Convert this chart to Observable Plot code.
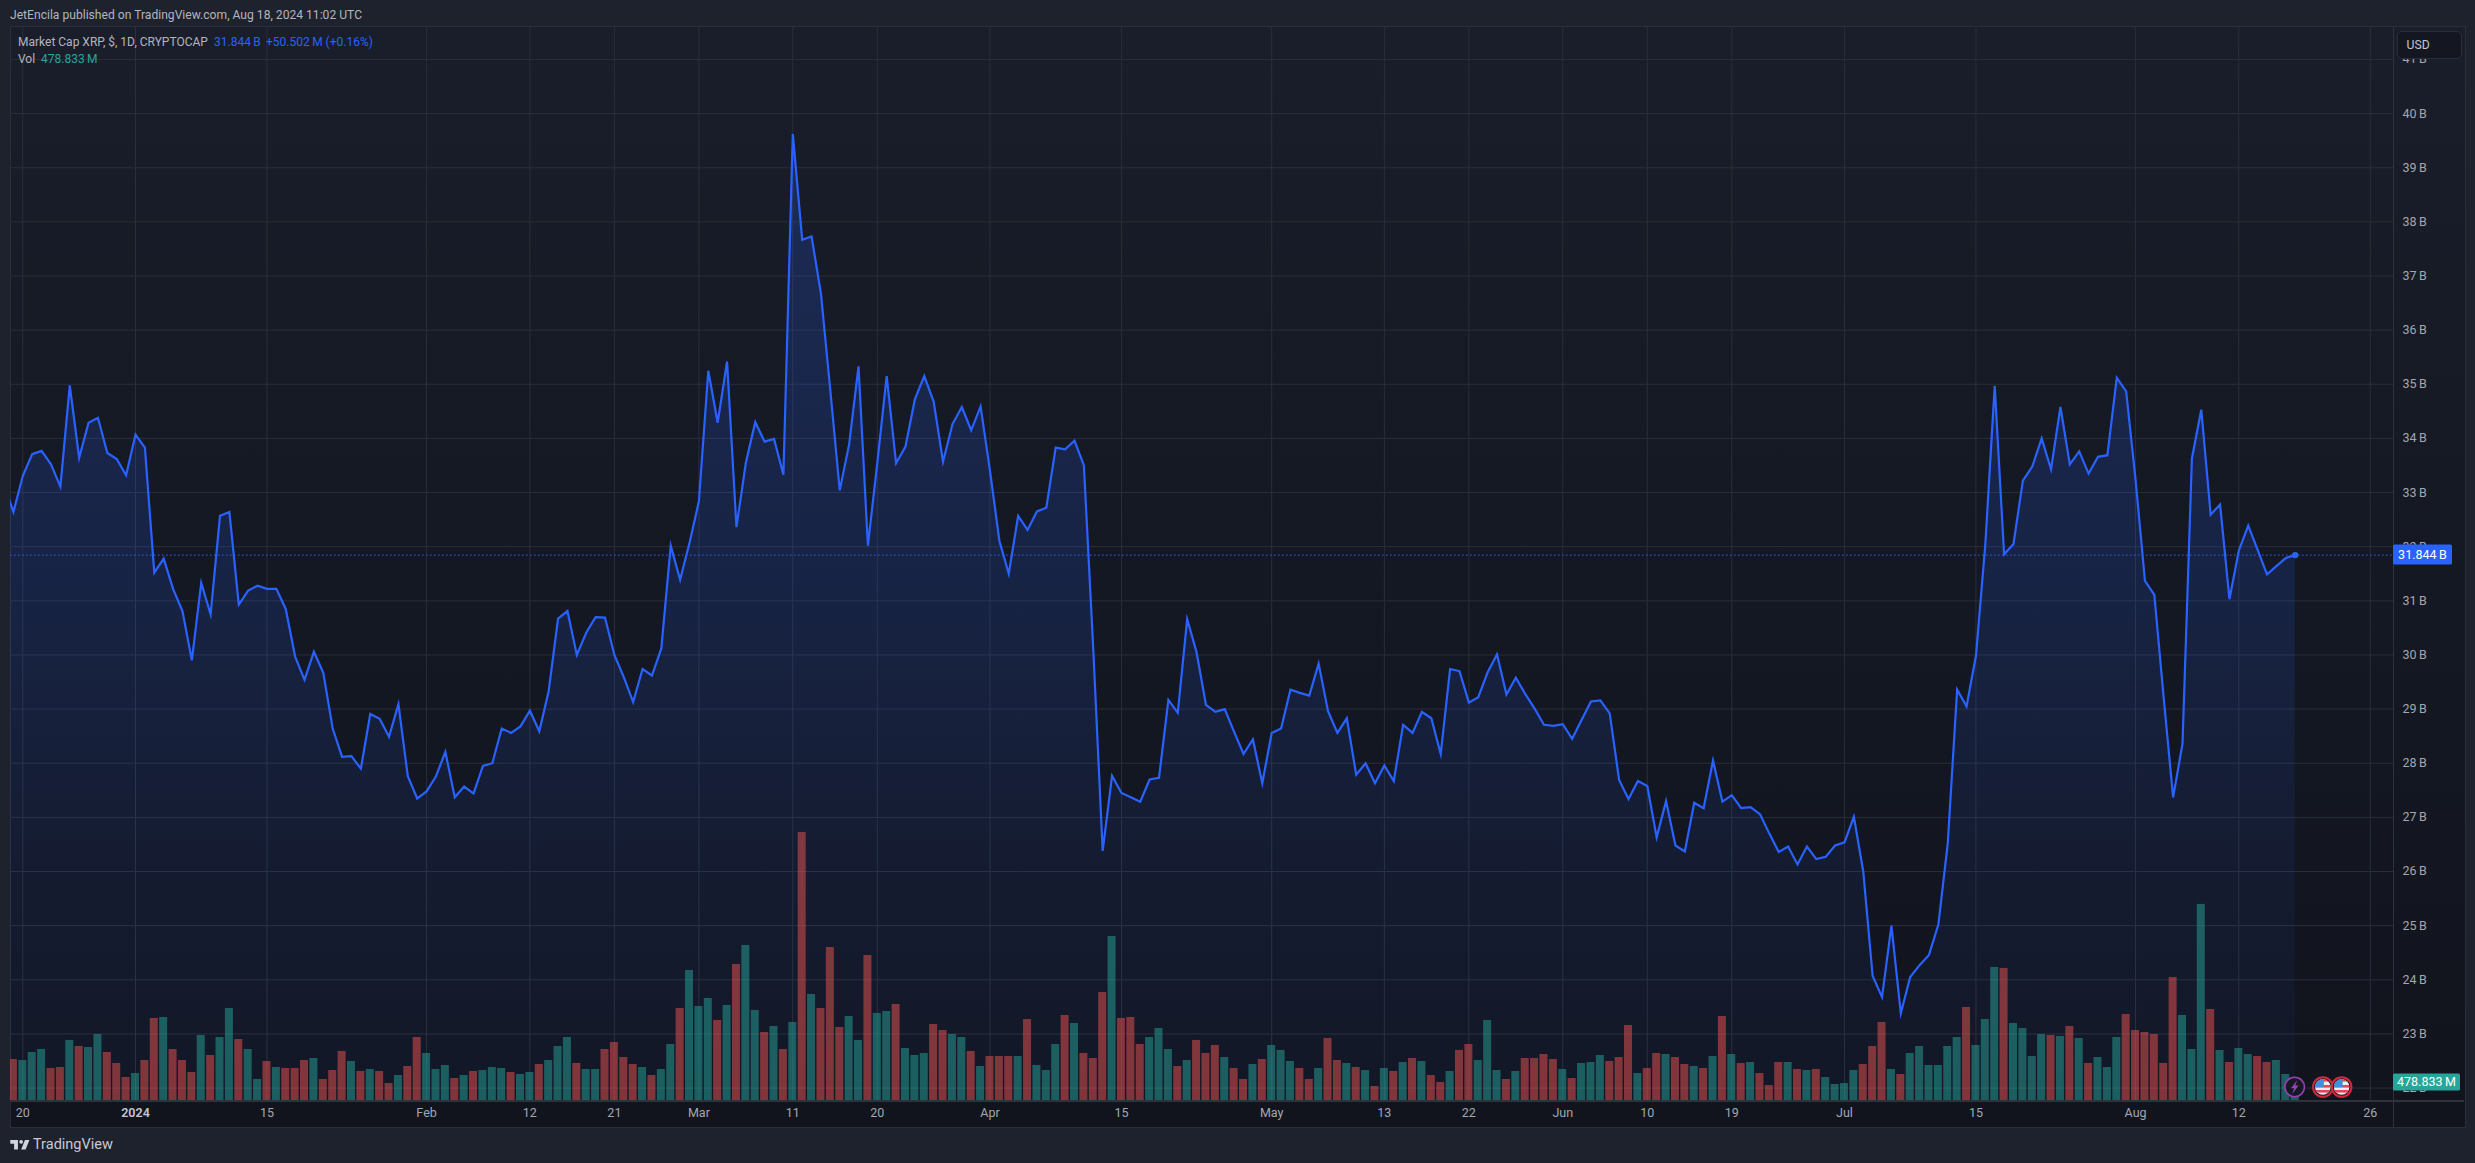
<!DOCTYPE html>
<html><head><meta charset="utf-8">
<script src="https://cdn.jsdelivr.net/npm/d3@7"></script>
<script src="https://cdn.jsdelivr.net/npm/@observablehq/plot@0.6"></script>
<style>
html,body{margin:0;padding:0;background:#1e222d;overflow:hidden}
#page{position:relative;width:2475px;height:1163px;font-family:Roboto,sans-serif;background:#1e222d;overflow:hidden}
#panel{position:absolute;left:10px;top:26px;width:2454px;height:1100px;border:1.5px solid #2a2e39;background:linear-gradient(180deg,#1a1e2a 0%,#151924 40%,#11141d 100%)}
#vdiv{position:absolute;left:2393px;top:27px;width:1px;height:1100px;background:#2e323d}
#hdiv{position:absolute;left:11px;top:1100px;width:2453px;height:1.5px;background:#2e323d}
#page svg{position:absolute;left:0;top:0}
.t{position:absolute;white-space:pre;font-size:12px;line-height:16px}
#usd{position:absolute;left:2396.5px;top:30.5px;width:63px;height:26px;background:#141722;border:1.2px solid #2a2e39;border-radius:5px;color:#c3c6ce;font-size:12.2px;line-height:26px;text-indent:9px}
</style></head><body>
<div id="page">
<div id="panel"></div>
<div id="vdiv"></div><div id="hdiv"></div>
<div class="t" style="left:10px;top:7px;color:#b2b5be;font-size:12.12px">JetEncila published on TradingView.com, Aug 18, 2024 11:02 UTC</div>
</div>
<script>
const startDate = Date.UTC(2023, 11, 18);
const priceB = [33.15,
32.64,33.31,33.71,33.77,33.52,33.11,34.98,33.64,34.29,34.38,33.73,33.62,33.32,
34.07,33.83,31.52,31.78,31.22,30.81,29.9,31.33,30.75,32.57,32.64,30.93,31.19,31.28,31.22,31.22,30.85,29.97,29.54,30.06,29.67,28.64,28.12,28.13,27.9,28.91,28.82,28.49,29.09,27.76,27.35,
27.48,27.76,28.21,27.37,27.57,27.44,27.95,28.0,28.64,28.56,28.68,28.97,28.59,29.33,30.67,30.81,30.0,30.41,30.7,30.69,30.0,29.59,29.13,29.74,29.62,30.12,32.02,31.39,32.07,
32.84,35.25,34.29,35.42,32.36,33.55,34.3,33.94,33.99,33.33,39.62,37.67,37.73,36.67,34.88,33.04,33.89,35.33,32.02,33.55,35.15,33.54,33.85,34.72,35.15,34.68,33.57,34.26,34.58,34.15,34.59,
33.4,32.11,31.5,32.57,32.31,32.65,32.72,33.83,33.8,33.96,33.5,30.1,26.38,27.77,27.45,27.37,27.29,27.7,27.73,29.17,28.93,30.66,30.05,29.08,28.95,29.0,28.58,28.17,28.44,27.63,28.56,28.64,29.36,29.3,29.25,29.84,
28.96,28.56,28.83,27.79,28.0,27.63,27.96,27.67,28.71,28.56,28.95,28.83,28.17,29.74,29.7,29.12,29.22,29.68,30.01,29.27,29.58,29.28,29.01,28.71,28.69,28.72,28.45,28.8,29.14,29.16,28.92,27.69,27.34,27.67,27.58,26.63,
27.3,26.48,26.37,27.27,27.17,28.05,27.29,27.41,27.17,27.19,27.06,26.7,26.36,26.46,26.13,26.46,26.23,26.27,26.48,26.54,27.01,26.0,
24.07,23.68,25.0,23.38,24.05,24.27,24.46,25.02,26.52,29.36,29.05,29.98,32.04,34.97,31.86,32.05,33.22,33.48,34.0,33.43,34.58,33.52,33.76,33.35,33.66,33.69,35.12,34.87,33.24,31.37,31.11,29.2,27.37,28.36,33.63,34.53,32.59,32.78,31.03,31.93,32.39,31.94,31.49,31.64,31.79,31.844];
const volumeM = [
1091,1064,1277,1357,852,878,1597,1437,1410,1756,1277,985,612,718,1064,2182,2209,1357,1064,745,1730,1197,1676,2448,1623,1357,559,1038,878,852,852,1064,1118,559,798,1304,1038,772,825,772,452,665,905,1676,1251,825,931,585,665,772,798,878,852,745,692,745,958,1064,1437,1676,985,825,825,1357,1543,1144,958,878,665,825,1490,2448,3459,2501,
2714,2129,2528,3619,4125,2395,1809,1969,1357,2076,7131,2821,2448,4071,1943,2235,1597,3858,2315,2368,2555,1384,1197,1251,2022,1863,1756,1676,1304,905,1171,1171,1171,1171,2155,931,798,1490,2262,2049,1251,1118,2874,4364,2182,2209,1490,1676,1916,1357,905,1064,1597,1251,1464,1144,852,559,958,1091,1464,1331,1038,852,559,852,1650,1064,985,878,798,373,852,772,
1011,1118,1038,665,479,772,1331,1490,1064,2129,798,559,772,1118,1118,1224,1091,825,585,985,1011,1197,1038,1144,1996,718,852,1251,1224,1144,958,905,852,1171,2235,1224,985,1011,718,399,1011,1011,825,798,825,612,426,452,798,958,1437,2076,825,692,1251,1437,931,931,1437,1676,2475,1464,2155,3539,3513,2049,1916,1171,1756,1730,1703,1969,1650,985,1144,878,1676,2288,1863,1809,1756,985,3273,2262,1357,5216,2422,1331,1011,1384,1224,1171,1011,1064,692,479];
const volumeDir = ["RGGGRRGRGGRRR",
"GRRGRRRGRG","GRGGRGRRRG","RRRGRGRRGR","RGGGRGRGGG","RGGRGGGRGG","RRRRGRGGRG",
"GGRGRGGRGR","GRGRRRGGRG","GRGGGRRGGR","GRRRGRGGGR","GRRRGRRRGG","GRGRRRGRRG",
"RGGGRRGRRG","RGRGRGRGRR","GRRGGGRGRR","RRGRGGGRRR","GRRGRRGRGR","GRGRRRGRGR",
"GGGGRRRGRG","GGGGGRGGGR","GGGGRGRGRG","GGRRRRRRGG","GRGRGGRRGGG"].join("").split("");
const xTickDates = ["2023-12-20","2024-01-01","2024-01-15","2024-02-01","2024-02-12","2024-02-21","2024-03-01","2024-03-11","2024-03-20","2024-04-01","2024-04-15","2024-05-01","2024-05-13","2024-05-22","2024-06-01","2024-06-10","2024-06-19","2024-07-01","2024-07-15","2024-08-01","2024-08-12","2024-08-26"];
const xTickLabels = ["20","2024","15","Feb","12","21","Mar","11","20","Apr","15","May","13","22","Jun","10","19","Jul","15","Aug","12","26"];
const priceTicks = [22,23,24,25,26,27,28,29,30,31,32,33,34,35,36,37,38,39,40,41];
const lastPrice = 31.844, lastVolume = 478.833;
const eventDates = [["2024-08-18","power"],["2024-08-21","us"],["2024-08-23","us"]];
const legendMain = ["Market Cap XRP, $, 1D, CRYPTOCAP","31.844\u2009B","+50.502\u2009M (+0.16%)"];
const legendVol = ["Vol","478.833\u2009M"];

const dayMs = 864e5;
const priceData = priceB.map((v,i)=>({date:new Date(startDate+i*dayMs),v}));
const volData = volumeM.map((v,i)=>({t:startDate+(i+1)*dayMs,v,dir:volumeDir[i]}));
const xDomain = [new Date("2023-12-18T16:30Z"), new Date("2024-08-28T11:17Z")];
const yBottom = 21.77, yTop = 41.59;
const dates = xTickDates.map(s=>new Date(s+"T00:00Z"));
const W=2475,H=1163,margins={marginLeft:10,marginRight:82,marginTop:27,marginBottom:63};
const font={fontFamily:"Roboto,sans-serif",fontSize:"12.5px",background:"transparent",overflow:"visible"};

const defs = () => d3.create("svg:defs").html(
 `<linearGradient id="areaFill" x1="0" y1="0" x2="0" y2="1">
   <stop offset="0" stop-color="#2962ff" stop-opacity=".21"/>
   <stop offset=".48" stop-color="#2962ff" stop-opacity=".15"/>
   <stop offset=".74" stop-color="#2962ff" stop-opacity=".08"/>
   <stop offset=".95" stop-color="#2962ff" stop-opacity=".045"/>
   <stop offset="1" stop-color="#2962ff" stop-opacity=".04"/></linearGradient>`).node();

function badge(value, fill, label, w, h){
  return (i,s,v,d)=>{
    const y = s.y(value), x = d.width-d.marginRight;
    const g = d3.create("svg:g");
    g.append("rect").attr("x",x).attr("y",y-h/2).attr("width",w).attr("height",h).attr("rx",1.5).attr("fill",fill);
    g.append("text").attr("x",x+(w-8)/2+4).attr("y",y+4.3).attr("text-anchor","middle").attr("fill","#fff").attr("font-size","12.5px").text(label);
    return g.node();
  };
}

const pricePlot = Plot.plot({
  width:W,height:H,...margins,style:font,
  x:{type:"utc",domain:xDomain,axis:null},
  y:{domain:[yBottom,yTop],axis:null},
  marks:[
    defs,
    Plot.gridY(priceTicks,{stroke:"#2a2e39",strokeOpacity:1}),
    Plot.gridX(dates,{stroke:"#2a2e39",strokeOpacity:1}),
    Plot.areaY(priceData,{x:"date",y1:yBottom,y2:"v",fill:"url(#areaFill)",clip:true}),
    Plot.ruleY([lastPrice],{stroke:"#2962ff",strokeDasharray:"1.5 2.5"}),
    Plot.line(priceData,{x:"date",y:"v",stroke:"#2962ff",strokeWidth:2.2,strokeLinejoin:"miter",strokeMiterlimit:6,clip:true}),
    Plot.dot([priceData[priceData.length-1]],{x:"date",y:"v",r:3.2,fill:"#2962ff"}),
    Plot.axisY(priceTicks,{anchor:"right",label:null,tickSize:0,tickPadding:9,textAnchor:"start",fill:"#a4a7b0",fontSize:12.5,tickFormat:d=>d+"\u2009B"}),
    Plot.axisX(dates,{anchor:"bottom",label:null,tickSize:0,tickPadding:8,fill:"#a4a7b0",fontSize:12.5,tickFormat:(d,i)=>xTickLabels[i]==="2024"?"":xTickLabels[i]}),
    Plot.axisX([dates[1]],{anchor:"bottom",label:null,tickSize:0,tickPadding:8,fill:"#c3c6ce",fontSize:12.5,fontWeight:600,tickFormat:()=>xTickLabels[1]}),
    badge(lastPrice,"#2962ff","31.844\u2009B",59,20)
  ]
});

const volTopM = 28542;
function eventMarks(i,s){
  const g=d3.create("svg:g");
  for(const [ds,kind] of eventDates){
    const e=g.append("g").attr("transform",`translate(${s.x(new Date(ds+"T00:00Z"))},${s.y(346)})`);
    if(kind==="power"){
      e.append("circle").attr("r",9.8).attr("fill","#151923").attr("stroke","#9c3fb5").attr("stroke-width",1.6);
      e.append("path").attr("d","M2.6-7 L-3.8 1.2 L-0.5 1.2 L-2.6 7 L4-1.4 L0.6-1.4 Z").attr("fill","#9c3fb5");
    } else {
      e.append("circle").attr("r",9.8).attr("fill","#151923").attr("stroke","#d02c3c").attr("stroke-width",2);
      const c=e.append("g").attr("clip-path","url(#flagClip2)");
      c.append("rect").attr("x",-8).attr("y",-8).attr("width",16).attr("height",16).attr("fill","#f1eef0");
      c.append("rect").attr("x",-8).attr("y",-2).attr("width",16).attr("height",2.6).attr("fill","#e2475a");
      c.append("rect").attr("x",-8).attr("y",3).attr("width",16).attr("height",2.6).attr("fill","#e2475a");
      c.append("rect").attr("x",-8).attr("y",-8).attr("width",16).attr("height",2.6).attr("fill","#e2475a");
      c.append("rect").attr("x",-8).attr("y",-8).attr("width",9).attr("height",8).attr("fill","#3f8fe0");
    }
  }
  return g.node();
}
const flagDefs=()=>d3.create("svg:defs").html('<clipPath id="flagClip2"><circle r="7.8"/></clipPath>').node();

const volPlot = Plot.plot({
  width:W,height:H,...margins,style:font,
  x:{type:"utc",domain:xDomain,axis:null},
  y:{domain:[0,volTopM],axis:null},
  marks:[
    flagDefs,
    Plot.rectY(volData,{
      x1:d=>new Date(d.t-0.426*dayMs),x2:d=>new Date(d.t+0.426*dayMs),y1:0,y2:"v",
      fill:d=>d.dir==="G"?"#26a69a":"#ef5350",fillOpacity:.5,clip:true,inset:0}),
    eventMarks,
    badge(lastVolume,"#26a69a","478.833\u2009M",67,17)
  ]
});

const page=document.getElementById("page");
page.append(pricePlot,volPlot);
function add(html){const t=document.createElement("template");t.innerHTML=html;page.append(t.content.firstChild);}
add(`<div id="usd">USD</div>`);
add(`<div class="t" style="left:18px;top:34px;color:#b2b5be">${legendMain[0]}</div>`);
add(`<div class="t" style="left:214px;top:34px;color:#2962ff">${legendMain[1]}</div>`);
add(`<div class="t" style="left:266px;top:34px;color:#2962ff">${legendMain[2]}</div>`);
add(`<div class="t" style="left:18px;top:51px;color:#b2b5be">${legendVol[0]}</div>`);
add(`<div class="t" style="left:41px;top:51px;color:#26a69a">${legendVol[1]}</div>`);
add(`<svg viewBox="0 0 36 28" style="left:8.7px;top:1136px;width:23px;height:18px" fill="#d1d4dc"><path d="M14 6H2v6h6v9h6V6Zm12 15h-7l6-15h7l-6 15Zm-7-9a3 3 0 1 0 0-6 3 3 0 0 0 0 6Z"/></svg>`);
add(`<div class="t" style="left:33px;top:1136px;color:#c8cad0;font-size:14.5px;line-height:18px">TradingView</div>`);
</script>
</body></html>
